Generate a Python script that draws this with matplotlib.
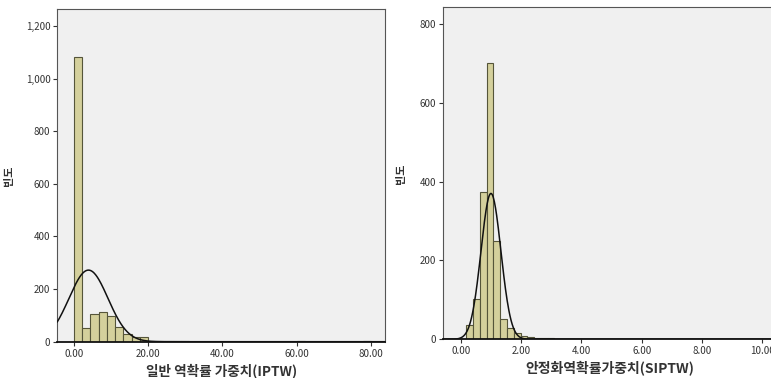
import numpy as np
import matplotlib
matplotlib.use("Agg")
import matplotlib.pyplot as plt
from matplotlib.ticker import FuncFormatter

plt.rcParams['font.family'] = ['Noto Sans CJK KR', 'DejaVu Sans']

# Histograma IPTW (bins de ancho 20/9 desde 0)
iptw_start = 0.0
iptw_width = 20.0 / 9
iptw_counts = [1081, 52, 105, 113, 99, 56, 30, 18, 18, 2, 2, 4, 1, 3,
               0, 0, 0, 0, 0, 0, 0, 0, 0, 0, 0, 0, 0, 1, 0, 0, 0, 0, 0, 0, 0, 1]
iptw_mean, iptw_sd, iptw_n = 3.9, 5.25, 1612
iptw_xticks = [0, 20, 40, 60, 80]
iptw_yticks = [0, 200, 400, 600, 800, 1000, 1200]

# Histograma SIPTW (bins de ancho 0.225 desde 0.18)
siptw_start = 0.18
siptw_width = 0.225
siptw_counts = [35, 101, 373, 702, 249, 52, 28, 16, 8, 6, 4, 3, 3, 1, 2, 1]
siptw_mean, siptw_sd, siptw_n = 1.0, 0.33, 1360
siptw_xticks = [0, 2, 4, 6, 8, 10]
siptw_yticks = [0, 200, 400, 600, 800]

fill = '#d4d09c'
edge = '#55553a'
bg = '#f0f0f0'


def draw_hist(ax, start, width, counts, mean, sd, n, xlim, ylim, xticks, yticks,
              xlabel, xlabel_size, ylabel_x):
    counts = np.array(counts)
    lefts = start + width * np.arange(len(counts))
    ax.bar(lefts, counts, width=width, align='edge', color=fill,
           edgecolor=edge, linewidth=0.8, zorder=2)
    xs = np.linspace(xlim[0], xlim[1], 600)
    curve = n * width * np.exp(-(xs - mean) ** 2 / (2 * sd ** 2)) / (sd * np.sqrt(2 * np.pi))
    ax.plot(xs, curve, color='#111111', linewidth=1.1, zorder=3)
    ax.set_xlim(*xlim)
    ax.set_ylim(*ylim)
    ax.set_facecolor(bg)
    ax.set_xticks(xticks)
    ax.set_yticks(yticks)
    ax.xaxis.set_major_formatter(FuncFormatter(lambda v, p: f"{v:.2f}"))
    ax.yaxis.set_major_formatter(FuncFormatter(lambda v, p: f"{int(v):,}"))
    ax.tick_params(direction='out', length=3, width=0.8, labelsize=7,
                   labelcolor='#333333', color='#333333', pad=2)
    for s in ['top', 'right', 'left']:
        ax.spines[s].set_color('#555555')
        ax.spines[s].set_linewidth(0.8)
    ax.spines['bottom'].set_color('#111111')
    ax.spines['bottom'].set_linewidth(1.3)
    ax.set_xlabel(xlabel, fontsize=xlabel_size, fontweight='bold', color='#333333', labelpad=3)
    ax.set_ylabel('빈도', fontsize=8, fontweight='bold', color='#333333')
    ax.yaxis.set_label_coords(ylabel_x, 0.5)


fig = plt.figure(figsize=(7.71, 3.78), dpi=100)
W, H = 771, 378

ax1 = fig.add_axes([57.3 / W, 1 - 341.7 / H, (385 - 57.3) / W, (341.7 - 9) / H])
draw_hist(ax1, iptw_start, iptw_width, iptw_counts, iptw_mean, iptw_sd, iptw_n,
          (-4.5, 83.8), (0, 1265), iptw_xticks, iptw_yticks,
          '일반 역확률 가중치(IPTW)', 9.8, (15 - 57.3) / 327.7)

ax2 = fig.add_axes([443.3 / W, 1 - 339.3 / H, (776 - 443.3) / W, (339.3 - 7.3) / H])
draw_hist(ax2, siptw_start, siptw_width, siptw_counts, siptw_mean, siptw_sd, siptw_n,
          (-0.58, 10.45), (0, 842), siptw_xticks, siptw_yticks,
          '안정화역확률가중치(SIPTW)', 10, (407 - 443.3) / 332.7)

fig.savefig('out.png', dpi=100)
